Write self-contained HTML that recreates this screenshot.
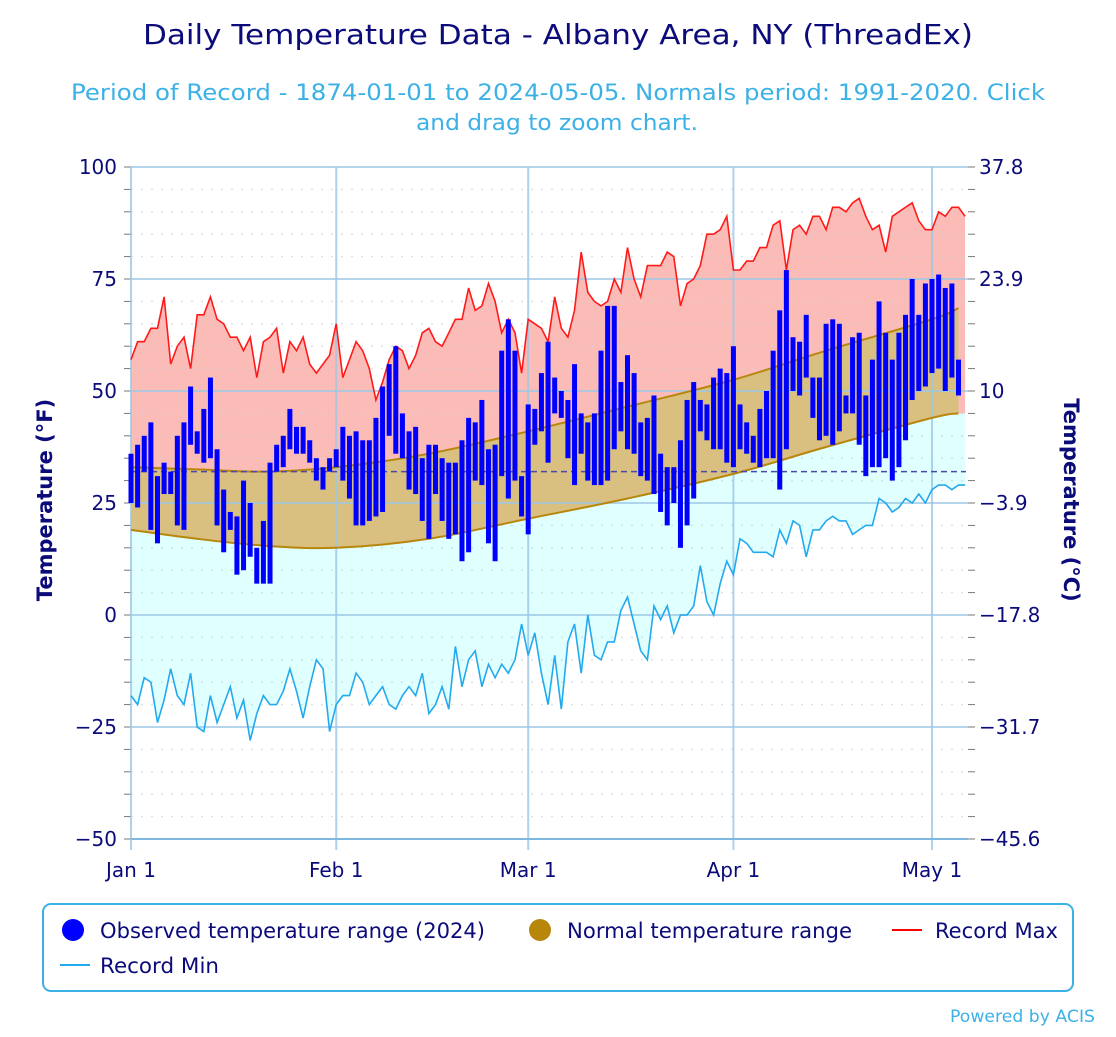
<!DOCTYPE html>
<html><head><meta charset="utf-8"><style>
body{margin:0;background:#fff;width:1116px;height:1032px;overflow:hidden;font-family:"Liberation Sans",sans-serif}
svg text{font-family:"DejaVu Sans","Liberation Sans",sans-serif}
</style></head><body>
<svg id="c" width="1116" height="1032" xmlns="http://www.w3.org/2000/svg">
<text x="558" y="44" text-anchor="middle" font-size="28" fill="#0b0b7a" textLength="830" lengthAdjust="spacingAndGlyphs">Daily Temperature Data - Albany Area, NY (ThreadEx)</text>
<text x="558" y="100" text-anchor="middle" font-size="22" fill="#3cb1e6" textLength="974" lengthAdjust="spacingAndGlyphs">Period of Record - 1874-01-01 to 2024-05-05. Normals period: 1991-2020. Click</text>
<text x="557" y="130" text-anchor="middle" font-size="22" fill="#3cb1e6" textLength="282" lengthAdjust="spacingAndGlyphs">and drag to zoom chart.</text>
<g id="plot"></g>
<text transform="translate(52,500) rotate(-90)" text-anchor="middle" font-size="21" font-weight="bold" fill="#0b0b7a">Temperature (°F)</text>
<text transform="translate(1064,500) rotate(90)" text-anchor="middle" font-size="21" font-weight="bold" fill="#0b0b7a">Temperature (°C)</text>
<g>
<rect x="43" y="904" width="1030" height="87" rx="8" fill="#fff" stroke="#3cb1e6" stroke-width="2"/>
<g><circle cx="73" cy="930" r="11" fill="#0000ff"/><text x="100" y="938" font-size="21" fill="#0b0b7a" textLength="385" lengthAdjust="spacingAndGlyphs">Observed temperature range (2024)</text></g>
<g><circle cx="540" cy="930" r="11" fill="#b8860b"/><text x="567" y="938" font-size="21" fill="#0b0b7a" textLength="285" lengthAdjust="spacingAndGlyphs">Normal temperature range</text></g>
<g><line x1="892" y1="930" x2="922" y2="930" stroke="#ff0000" stroke-width="2"/><text x="935" y="938" font-size="21" fill="#0b0b7a" textLength="123" lengthAdjust="spacingAndGlyphs">Record Max</text></g>
<g><line x1="60" y1="965" x2="90" y2="965" stroke="#22aaee" stroke-width="2"/><text x="100" y="973" font-size="21" fill="#0b0b7a" textLength="119" lengthAdjust="spacingAndGlyphs">Record Min</text></g>
</g>
<text x="1095" y="1022" text-anchor="end" font-size="17" fill="#3cb1e6" textLength="145" lengthAdjust="spacingAndGlyphs">Powered by ACIS</text>
</svg>
<script>
const obsHigh=[36,38,40,43,31,34,32,40,43,51,41,46,53,37,28,23,22,30,25,15,21,34,38,40,46,42,42,39,35,33,35,37,42,40,41,39,39,44,51,56,60,45,41,42,35,38,38,35,34,34,39,44,43,48,37,38,59,66,59,31,47,46,54,61,53,50,48,56,45,43,45,59,69,69,52,58,54,43,44,49,36,33,33,39,48,52,48,47,53,55,54,60,47,43,40,46,50,59,68,77,62,61,67,53,53,65,66,65,49,62,63,49,57,70,63,57,63,67,75,67,74,75,76,73,74,57];
const obsLow=[25,24,32,19,16,27,27,20,19,38,36,34,35,20,14,19,9,10,13,7,7,7,32,33,37,36,36,34,30,28,32,33,30,26,20,20,21,22,23,40,36,35,28,27,21,17,27,21,17,18,12,14,30,29,16,12,31,26,30,22,18,38,41,34,45,44,35,29,36,30,29,29,30,37,41,37,36,31,30,27,23,20,25,15,20,26,41,39,37,37,34,33,37,36,34,33,35,35,28,37,50,49,53,44,39,40,38,41,45,45,38,31,33,33,35,30,33,39,48,50,51,54,55,50,53,49];
const recMax=[57,61,61,64,64,71,56,60,62,55,67,67,71,66,65,62,62,59,62,53,61,62,64,54,61,59,62,56,54,56,58,65,53,57,61,59,55,48,52,57,60,59,55,58,63,64,61,60,63,66,66,73,68,69,74,70,63,66,63,54,66,65,64,61,71,64,62,68,81,72,70,69,70,75,72,82,75,71,78,78,78,81,80,69,74,75,78,85,85,86,89,77,77,79,79,82,82,87,88,77,86,87,85,89,89,86,91,91,90,92,93,89,86,87,81,89,90,91,92,88,86,86,90,89,91,91,89];
const recMin=[-18,-20,-14,-15,-24,-19,-12,-18,-20,-13,-25,-26,-18,-24,-20,-16,-23,-19,-28,-22,-18,-20,-20,-17,-12,-17,-23,-16,-10,-12,-26,-20,-18,-18,-13,-15,-20,-18,-16,-20,-21,-18,-16,-18,-13,-22,-20,-16,-21,-7,-16,-10,-8,-16,-11,-14,-11,-13,-10,-2,-9,-4,-13,-20,-9,-21,-6,-2,-13,0,-9,-10,-6,-6,1,4,-2,-8,-10,2,-1,2,-4,0,0,2,11,3,0,7,12,9,17,16,14,14,14,13,19,16,21,20,13,19,19,21,22,21,21,18,19,20,20,26,25,23,24,26,25,27,25,28,29,29,28,29,29];
const normDays=[0,10,20,31,45,60,75,91,105,121,125];
const normMax=[33,32.5,32,33,36,41,46.5,52.5,59,66,68.5];
const normMin=[19,17,15.5,15,17,21.5,26,31.5,37.5,44,45];
const yTicksF=[100,75,50,25,0,-25,-50];
const yTicksC=["37.8","23.9","10","−3.9","−17.8","−31.7","−45.6"];
const monthLabels=["Jan 1","Feb 1","Mar 1","Apr 1","May 1"];
const monthDays=[0,31,60,91,121];

const X0=131,DX=6.62,Y0=615,SY=4.48;
const xs=d=>X0+d*DX, ys=t=>Y0-t*SY;
const NS="http://www.w3.org/2000/svg";
const plot=document.getElementById('plot');
function mk(tag,attrs,parent){const e=document.createElementNS(NS,tag);for(const k in attrs)e.setAttribute(k,attrs[k]);(parent||plot).appendChild(e);return e;}
const pts=(days,vals)=>vals.map((v,i)=>xs(days?days[i]:i).toFixed(1)+','+ys(v).toFixed(1));
function smooth(days,vals){let d='M'+xs(days[0])+','+ys(vals[0]);for(let i=0;i<days.length-1;i++){const p0=[xs(days[Math.max(0,i-1)]),ys(vals[Math.max(0,i-1)])],p1=[xs(days[i]),ys(vals[i])],p2=[xs(days[i+1]),ys(vals[i+1])],p3=[xs(days[Math.min(days.length-1,i+2)]),ys(vals[Math.min(days.length-1,i+2)])];d+=` C${(p1[0]+(p2[0]-p0[0])/6).toFixed(1)},${(p1[1]+(p2[1]-p0[1])/6).toFixed(1)} ${(p2[0]-(p3[0]-p1[0])/6).toFixed(1)},${(p2[1]-(p3[1]-p1[1])/6).toFixed(1)} ${p2[0].toFixed(1)},${p2[1].toFixed(1)}`;}return d;}
function smoothRev(days,vals){return smooth(days.slice().reverse(),vals.slice().reverse()).replace(/^M/,'L');}
let e=mk('polygon',{points:pts(null,recMax).concat(pts(null,recMin).reverse()).join(' '),fill:'#fbbcb8'});


e=mk('path',{d:smooth(normDays,normMin)+' L'+xs(recMin.length-1)+','+ys(normMin[normMin.length-1])+' '+pts(null,recMin).reverse().map(p=>'L'+p).join(' ')+' Z',fill:'#e0ffff'});


for(let t=-50;t<=100;t+=5){if(t%25===0)continue;const g=mk('line',{x1:X0,x2:968,y1:ys(t),y2:ys(t),stroke:'#ccd6dd','stroke-width':1.5,'stroke-dasharray':'2,8',opacity:0.7});

}
e=mk('path',{d:smooth(normDays,normMax)+' '+smoothRev(normDays,normMin)+' Z',fill:'#d9bf80'});


yTicksF.forEach((t,i)=>{const g=mk('line',{x1:X0,x2:968,y1:ys(t),y2:ys(t),stroke:'#9cc8e6','stroke-width':2,opacity:0.75});


const l=mk('text',{x:117,y:ys(t)+7,'text-anchor':'end','font-size':20,fill:'#0b0b7a'});l.textContent=String(t).replace('-','−');


const r=mk('text',{x:979,y:ys(t)+7,'font-size':20,fill:'#0b0b7a'});r.textContent=yTicksC[i];

});
for(let t=-50;t<=100;t+=5){const a=mk('line',{x1:124,x2:131,y1:ys(t),y2:ys(t),stroke:'#777','stroke-width':1});


const b=mk('line',{x1:968,x2:975,y1:ys(t),y2:ys(t),stroke:'#777','stroke-width':1});

}
monthDays.forEach((d,i)=>{const g=mk('line',{x1:xs(d),x2:xs(d),y1:167,y2:850,stroke:'#9cc8e6','stroke-width':2,opacity:0.8});


const l=mk('text',{x:xs(d),y:877,'text-anchor':'middle','font-size':20,fill:'#0b0b7a'});l.textContent=monthLabels[i];

});
e=mk('line',{x1:X0,x2:968,y1:ys(-50),y2:ys(-50),stroke:'#7fb8de','stroke-width':2});


e=mk('path',{d:smooth(normDays,normMax),fill:'none',stroke:'#b8860b','stroke-width':2});


e=mk('path',{d:smooth(normDays,normMin),fill:'none',stroke:'#b8860b','stroke-width':2});


e=mk('line',{x1:X0,x2:966,y1:ys(32),y2:ys(32),stroke:'#4a4aaa','stroke-width':1.5,'stroke-dasharray':'6,4'});


e=mk('polyline',{points:pts(null,recMax).join(' '),fill:'none',stroke:'#ff1a1a','stroke-width':1.6});


e=mk('polyline',{points:pts(null,recMin).join(' '),fill:'none',stroke:'#22aaee','stroke-width':1.6});


obsHigh.forEach((h,i)=>{const b=mk('rect',{x:xs(i)-2.5,y:ys(h),width:5,height:Math.max(1,ys(obsLow[i])-ys(h)),fill:'#0000ff'});

});
</script>
</body></html>
